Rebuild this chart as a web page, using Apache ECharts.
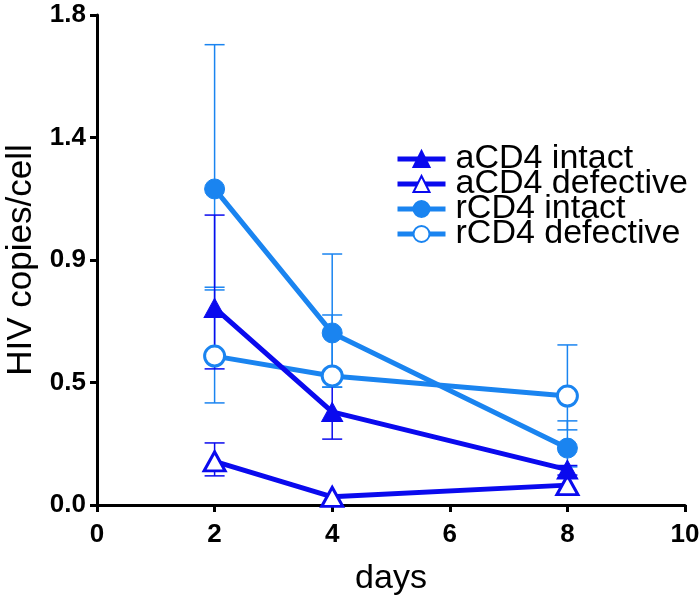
<!DOCTYPE html>
<html><head><meta charset="utf-8">
<script src="https://cdn.jsdelivr.net/npm/echarts@6/dist/echarts.min.js"></script>
<style>html,body{margin:0;padding:0;background:#fff}#c{width:700px;height:605px}</style>
</head><body><div id="c"></div>
<script>
// ---- data ----
const days = [2, 4, 8];
const seriesNames = ['aCD4 intact', 'aCD4 defective', 'rCD4 intact', 'rCD4 defective'];
const aIntact     = [0.724, 0.342, 0.130];
const aIntactLow  = [0.500, 0.242, 0.110];
const aIntactHigh = [1.065, 0.490, 0.145];
const aDef        = [0.160, 0.030, 0.073];
const aDefLow     = [0.107, null, null];
const aDefHigh    = [0.228, null, null];
const rIntact     = [1.161, 0.632, 0.209];
const rIntactLow  = [0.800, 0.433, 0.140];
const rIntactHigh = [1.691, 0.922, 0.309];
const rDef        = [0.547, 0.474, 0.400];
const rDefLow     = [0.375, 0.433, 0.276];
const rDefHigh    = [0.790, 0.698, 0.588];
const yTickLabels = ['0.0', '0.5', '0.9', '1.4', '1.8'];
const xTickLabels = ['0', '2', '4', '6', '8', '10'];

const DARK = '#0a0aee';
const LIGHT = '#1a84f0';
const FONT = 'Liberation Sans, Arial, sans-serif';

function errSeries(color, low, high) {
  const data = [];
  days.forEach((d, i) => { if (low[i] != null && high[i] != null) data.push([d, low[i], high[i]]); });
  return {
    type: 'custom', silent: true, z: 1, data: data,
    renderItem(params, api) {
      const x = api.value(0);
      const lo = api.coord([x, api.value(1)]);
      const hi = api.coord([x, api.value(2)]);
      const w = 10;
      const st = { stroke: color, lineWidth: 1.5 };
      return { type: 'group', children: [
        { type: 'line', shape: { x1: lo[0], y1: lo[1], x2: hi[0], y2: hi[1] }, style: st },
        { type: 'line', shape: { x1: lo[0] - w, y1: lo[1], x2: lo[0] + w, y2: lo[1] }, style: st },
        { type: 'line', shape: { x1: hi[0] - w, y1: hi[1], x2: hi[0] + w, y2: hi[1] }, style: st }
      ]};
    }
  };
}

function lineSeries(name, vals, color, symbol, open) {
  return {
    type: 'line', name: name, z: 3,
    data: days.map((d, i) => [d, vals[i]]),
    symbol: symbol, symbolSize: symbol === 'triangle' ? [21, 19] : 20,
    showAllSymbol: true,
    lineStyle: { color: color, width: 5 },
    itemStyle: open ? { color: '#fff', borderColor: color, borderWidth: 3 }
                    : { color: color, borderColor: color, borderWidth: 1 },
    emphasis: { disabled: true }
  };
}

const chart = echarts.init(document.getElementById('c'), null, { renderer: 'canvas' });
chart.setOption({
  animation: false,
  backgroundColor: '#fff',
  grid: { left: 97, right: 15, top: 15, bottom: 100, containLabel: false, outerBoundsMode: 'none' },
  legend: {
    data: seriesNames, orient: 'vertical', left: 390, top: 137,
    itemWidth: 48, itemHeight: 20, itemGap: -9, selectedMode: false,
    lineStyle: { width: 5 },
    textStyle: { fontSize: 34, fontFamily: FONT, color: '#000', padding: [0, 0, 0, 5] }
  },
  xAxis: {
    type: 'value', min: 0, max: 10, interval: 2,
    name: 'days', nameLocation: 'middle', nameGap: 57,
    nameTextStyle: { fontSize: 34, fontFamily: FONT, color: '#000' },
    axisLine: { show: true, lineStyle: { color: '#000', width: 3 } },
    axisTick: { show: true, length: 7, lineStyle: { color: '#000', width: 3 } },
    axisLabel: { fontSize: 26, fontWeight: 'bold', fontFamily: FONT, color: '#000', margin: 17,
      formatter: (v) => xTickLabels[Math.round(v / 2)] },
    splitLine: { show: false }
  },
  yAxis: {
    type: 'value', min: 0, max: 1.8, interval: 0.45,
    name: 'HIV copies/cell', nameLocation: 'middle', nameGap: 49, nameRotate: 90,
    nameTextStyle: { fontSize: 35, fontFamily: FONT, color: '#000' },
    axisLine: { show: true, lineStyle: { color: '#000', width: 3 } },
    axisTick: { show: true, length: 7, lineStyle: { color: '#000', width: 3 } },
    axisLabel: { fontSize: 26, fontWeight: 'bold', fontFamily: FONT, color: '#000', margin: 11,
      formatter: (v) => yTickLabels[Math.round(v / 0.45)] },
    splitLine: { show: false }
  },
  series: [
    errSeries(LIGHT, rIntactLow, rIntactHigh),
    errSeries(LIGHT, rDefLow, rDefHigh),
    errSeries(DARK, aIntactLow, aIntactHigh),
    errSeries(DARK, aDefLow, aDefHigh),
    lineSeries('rCD4 defective', rDef, LIGHT, 'circle', true),
    lineSeries('rCD4 intact', rIntact, LIGHT, 'circle', false),
    lineSeries('aCD4 defective', aDef, DARK, 'triangle', true),
    lineSeries('aCD4 intact', aIntact, DARK, 'triangle', false)
  ]
});
</script></body></html>
